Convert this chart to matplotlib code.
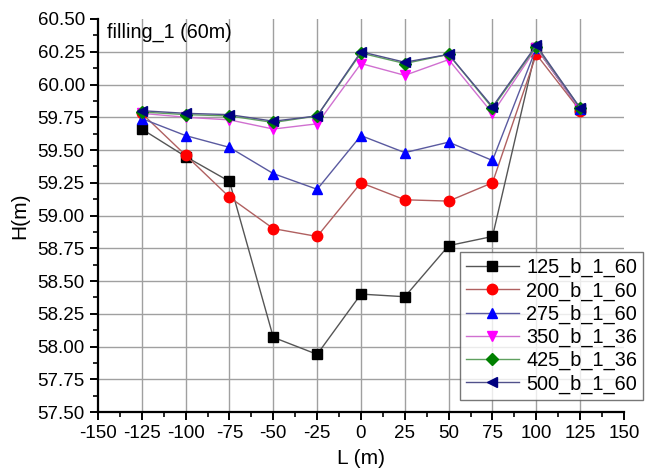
import matplotlib.pyplot as plt
import numpy as np
from matplotlib.ticker import MultipleLocator

plt.rcParams['font.family'] = ['Liberation Sans', 'DejaVu Sans']
plt.rcParams['axes.unicode_minus'] = False

L = [-125, -100, -75, -50, -25, 0, 25, 50, 75, 100, 125]

h_125 = [59.66, 59.45, 59.26, 58.07, 57.94, 58.40, 58.38, 58.77, 58.84, 60.28, 59.81]
h_200 = [59.78, 59.46, 59.14, 58.90, 58.84, 59.25, 59.12, 59.11, 59.25, 60.23, 59.80]
h_275 = [59.74, 59.61, 59.52, 59.32, 59.20, 59.61, 59.48, 59.56, 59.42, 60.28, 59.81]
h_350 = [59.78, 59.75, 59.73, 59.66, 59.70, 60.16, 60.07, 60.19, 59.78, 60.28, 59.81]
h_425 = [59.79, 59.77, 59.76, 59.71, 59.76, 60.24, 60.16, 60.23, 59.82, 60.29, 59.82]
h_500 = [59.80, 59.78, 59.77, 59.72, 59.76, 60.25, 60.17, 60.23, 59.83, 60.30, 59.82]

series = [
    ('125_b_1_60', h_125, 's', 'black', '#555555'),
    ('200_b_1_60', h_200, 'o', 'red', '#b06060'),
    ('275_b_1_60', h_275, '^', 'blue', '#5a5aa0'),
    ('350_b_1_36', h_350, 'v', 'magenta', '#d070d0'),
    ('425_b_1_36', h_425, 'D', 'green', '#60a060'),
    ('500_b_1_60', h_500, '<', 'navy', '#50508a'),
]

fig = plt.figure(figsize=(6.51, 4.75), dpi=100)
ax = fig.add_axes([0.1505, 0.1326, 0.808, 0.8274])

# grid only on the inner ticks
for x in range(-125, 150, 25):
    ax.axvline(x, color='#a0a0a0', lw=1.0, zorder=0)
for y in np.arange(57.75, 60.5, 0.25):
    ax.axhline(y, color='#a0a0a0', lw=1.0, zorder=0)

for name, h, mk, mc, lc in series:
    ms = 6.5 if mk == 'D' else 7.5
    ax.plot(L, h, color=lc, lw=1.0, marker=mk, markersize=ms,
            markerfacecolor=mc, markeredgecolor=mc, label=name, zorder=3)

ax.set_xlim(-150, 150)
ax.set_ylim(57.5, 60.5)
ax.xaxis.set_major_locator(MultipleLocator(25))
ax.xaxis.set_minor_locator(MultipleLocator(12.5))
ax.yaxis.set_major_locator(MultipleLocator(0.25))
ax.yaxis.set_minor_locator(MultipleLocator(0.125))
ax.yaxis.set_major_formatter(plt.FormatStrFormatter('%.2f'))

for s in ['top', 'right']:
    ax.spines[s].set_visible(False)
for s in ['left', 'bottom']:
    ax.spines[s].set_linewidth(1.6)

ax.tick_params(which='major', direction='out', length=6, width=1.4, labelsize=13.5)
ax.tick_params(which='minor', direction='out', length=3.5, width=1.2)

ax.set_xlabel('L (m)', fontsize=15, labelpad=5)
ax.set_ylabel('H(m)', fontsize=15, labelpad=6)
ax.text(0.017, 0.99, 'filling_1 (60m)', transform=ax.transAxes,
        fontsize=14.2, va='top', ha='left')

leg = fig.legend(loc='upper right', bbox_to_anchor=(0.988, 0.469), fontsize=14.3,
                 frameon=True, fancybox=False, edgecolor='#555555',
                 handlelength=2.7, handletextpad=0.35, labelspacing=0.2,
                 borderpad=0.3, borderaxespad=0)
leg.get_frame().set_linewidth(1.0)

fig.savefig('out.png', dpi=100)
